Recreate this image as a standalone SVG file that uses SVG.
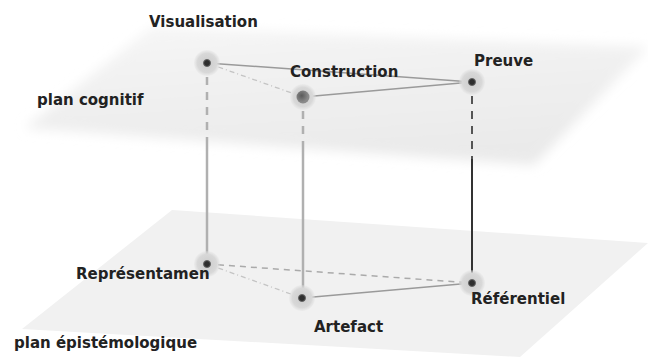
<svg xmlns="http://www.w3.org/2000/svg" width="648" height="363" viewBox="0 0 648 363">
  <defs>
    <filter id="soft" x="-10%" y="-25%" width="120%" height="150%">
      <feGaussianBlur stdDeviation="6"/>
    </filter>
    <linearGradient id="topPlane" x1="0" y1="0" x2="0.3" y2="1">
      <stop offset="0" stop-color="#f6f6f6"/>
      <stop offset="0.6" stop-color="#efefef"/>
      <stop offset="1" stop-color="#eaeaea"/>
    </linearGradient>
    <radialGradient id="halo">
      <stop offset="0" stop-color="#cccccc"/>
      <stop offset="0.75" stop-color="#d8d8d8"/>
      <stop offset="1" stop-color="#e0e0e0" stop-opacity="0.3"/>
    </radialGradient>
    <radialGradient id="bigDot" cx="0.4" cy="0.4">
      <stop offset="0" stop-color="#5a5a5a"/>
      <stop offset="1" stop-color="#8a8a8a"/>
    </radialGradient>
    <style>
      .lbl { font-family: "DejaVu Sans", "Liberation Sans", sans-serif; font-weight: bold; font-size: 15px; fill: #222; }
      .halo { fill: url(#halo); }
      .dot { fill: #2e2e2e; stroke: #666; stroke-width: 1; }
      .edge { fill: none; stroke: #9a9a9a; stroke-width: 1.5; }
      .dashed { fill: none; stroke: #aaaaaa; stroke-width: 1.5; stroke-dasharray: 6 5; }
      .dotted { fill: none; stroke: #c4c4c4; stroke-width: 1.3; stroke-dasharray: 5 3 1 3; }
      .vlight { fill: none; stroke: #b0b0b0; stroke-width: 2.5; }
      .vlightd { fill: none; stroke: #b0b0b0; stroke-width: 2.5; stroke-dasharray: 8 7; }
      .vdark { fill: none; stroke: #333; stroke-width: 2; }
      .vdarkd { fill: none; stroke: #555; stroke-width: 2; stroke-dasharray: 8 7; }
    </style>
  </defs>

  <rect width="648" height="363" fill="#ffffff"/>

  <g id="plans">
    <polygon points="152,27 648,47 534,165 25,128" fill="url(#topPlane)" filter="url(#soft)"/>
    <polygon points="172,210 648,243 520,357 22,329" fill="#f1f1f1"/>
    <text class="lbl" x="37" y="105">plan cognitif</text>
    <text class="lbl" x="14" y="348">plan épistémologique</text>
  </g>

  <g id="connectors">
    <line class="edge" x1="207" y1="63" x2="472" y2="82"/>
    <line class="dotted" x1="207" y1="63" x2="303" y2="97"/>
    <line class="edge" x1="303" y1="97" x2="472" y2="82"/>
    <line class="dashed" x1="207" y1="264" x2="472" y2="283"/>
    <line class="dotted" x1="207" y1="264" x2="302" y2="298"/>
    <line class="edge" x1="302" y1="298" x2="472" y2="283"/>
    <line class="vlightd" x1="207" y1="77" x2="207" y2="140"/>
    <line class="vlight" x1="207" y1="140" x2="207" y2="264"/>
    <line class="vlightd" x1="303" y1="111" x2="303" y2="147"/>
    <line class="vlight" x1="303" y1="147" x2="303" y2="298"/>
    <line class="vdarkd" x1="472" y1="96" x2="472" y2="159"/>
    <line class="vdark" x1="472" y1="159" x2="472" y2="283"/>
  </g>

  <g id="visualisation">
    <circle class="halo" cx="207" cy="63" r="13"/>
    <circle class="dot" cx="207" cy="63" r="3.5"/>
    <text class="lbl" x="149" y="27">Visualisation</text>
  </g>
  <g id="construction">
    <circle class="halo" cx="303" cy="97" r="13"/>
    <circle cx="303" cy="97" r="6.5" fill="url(#bigDot)"/>
    <text class="lbl" x="290" y="77">Construction</text>
  </g>
  <g id="preuve">
    <circle class="halo" cx="472" cy="82" r="13"/>
    <circle class="dot" cx="472" cy="82" r="3.5"/>
    <text class="lbl" x="474" y="66">Preuve</text>
  </g>
  <g id="representamen">
    <circle class="halo" cx="207" cy="264" r="13"/>
    <circle class="dot" cx="207" cy="264" r="3.5"/>
    <text class="lbl" x="76" y="279">Représentamen</text>
  </g>
  <g id="artefact">
    <circle class="halo" cx="302" cy="298" r="13"/>
    <circle class="dot" cx="302" cy="298" r="3.5"/>
    <text class="lbl" x="314" y="332">Artefact</text>
  </g>
  <g id="referentiel">
    <circle class="halo" cx="472" cy="283" r="13"/>
    <circle class="dot" cx="472" cy="283" r="3.5"/>
    <text class="lbl" x="471" y="304">Référentiel</text>
  </g>
</svg>
